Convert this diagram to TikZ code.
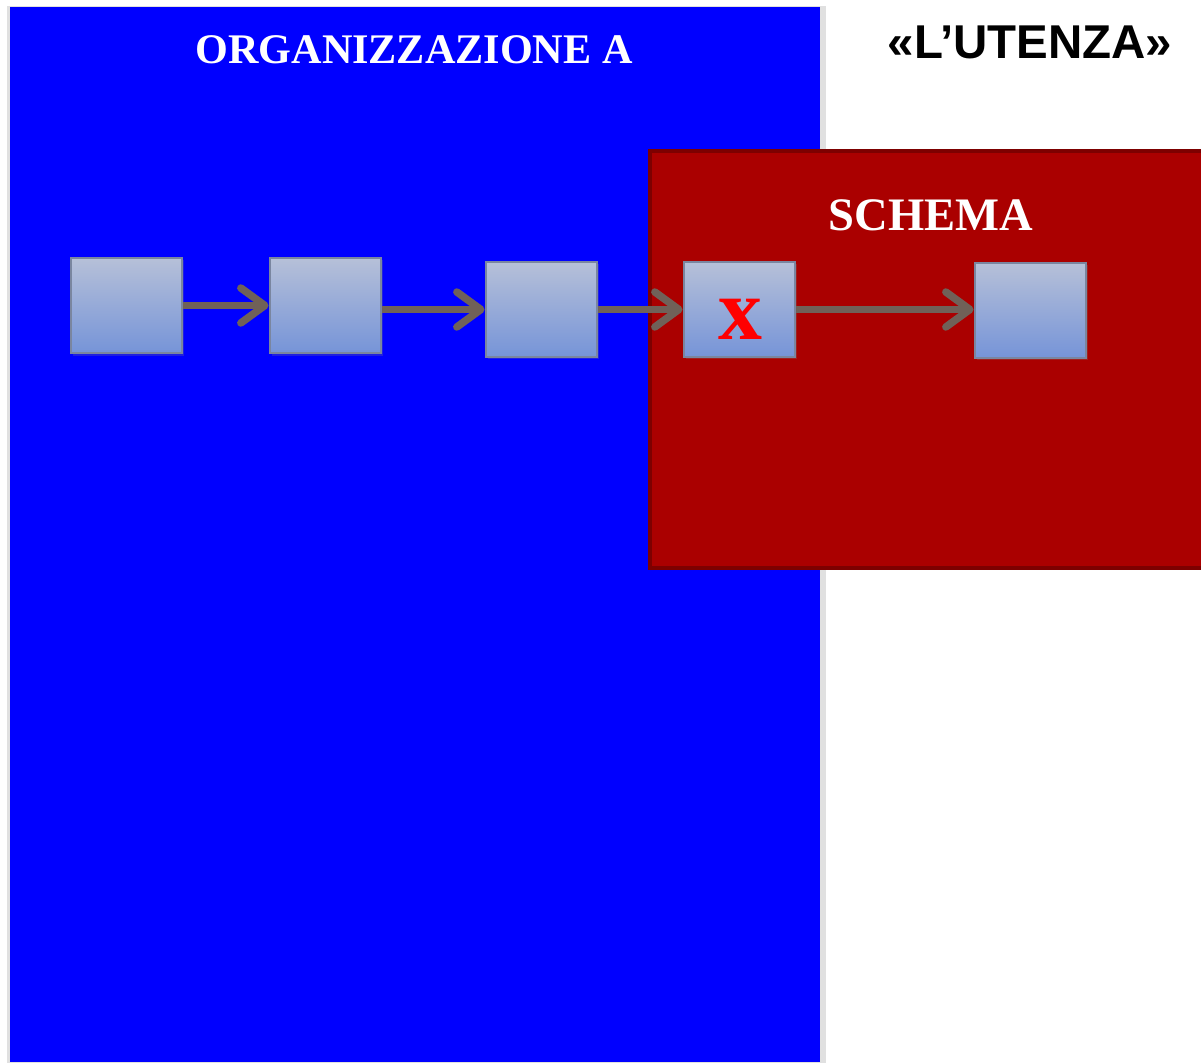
\documentclass[tikz,border=0pt]{standalone}
\usepackage{fontspec}
\setmainfont{Liberation Serif}
\setsansfont{Liberation Sans}
\usepackage{xcolor}
\usepackage{tikz}
\usetikzlibrary{arrows.meta, positioning, shadows}

\definecolor{orgblue}{RGB}{0,0,255}
\definecolor{schemared}{RGB}{170,0,0}
\definecolor{schemaedge}{RGB}{125,0,0}
\definecolor{boxtop}{RGB}{182,192,216}
\definecolor{boxbottom}{RGB}{118,148,216}
\definecolor{boxedge}{RGB}{122,134,160}
\definecolor{linkgray}{RGB}{112,97,88}

\begin{document}
\begin{tikzpicture}[
    block/.style={rectangle, draw=boxedge, line width=1.6pt, top color=boxtop, bottom color=boxbottom,
                  minimum width=2.22cm, minimum height=1.9cm, inner sep=0pt,
                  drop shadow={opacity=0.25, shadow xshift=0.03cm, shadow yshift=-0.05cm}},
    link/.style={-{Straight Barb[length=0.48cm, width=0.7cm, round]}, line width=0.15cm, linkgray},
    title/.style={anchor=base, font=\bfseries\fontsize{24}{28}\selectfont, white}
]
  \useasboundingbox (0,0) rectangle (24.02,21.26);

  % Organisation area
  \fill[black!12] (0.14,0) rectangle (16.52,21.14);
  \fill[orgblue] (0.2,0.02) rectangle (16.4,21.12);
  \node[title] (orgtitle) at (8.28,19.98) {ORGANIZZAZIONE A};

  % Schema area
  \draw[schemaedge, fill=schemared, line width=0.08cm] (13.0,9.9) rectangle (24.2,18.24);
  \node[title, font=\bfseries\fontsize{26.5}{30}\selectfont] (schematitle) at (18.62,16.64) {SCHEMA};

  \node[anchor=base, font=\sffamily\bfseries\fontsize{27}{31}\selectfont] (utenza) at (20.6,20.08) {«L’UTENZA»};

  % Chain of blocks
  \node[block] (b1) at (2.53,15.15) {};
  \node[block] (b2) at (6.51,15.15) {};
  \node[block] (b3) at (10.83,15.07) {};
  \node[block] (b4) at (14.79,15.07) {};
  \node[block] (b5) at (20.61,15.05) {};
  \node[anchor=base, text=red, font=\bfseries\fontsize{50}{56}\selectfont, inner sep=0pt] (mark) at (14.8,14.46) {x};

  \draw[link] (b1) -- (b2);
  \draw[link] (b2.east |- b3.west) -- (b3.west);
  \draw[link] (b3) -- (b4);
  \draw[link] (b4.east) -- (b4.east -| b5.west);
\end{tikzpicture}
\end{document}
